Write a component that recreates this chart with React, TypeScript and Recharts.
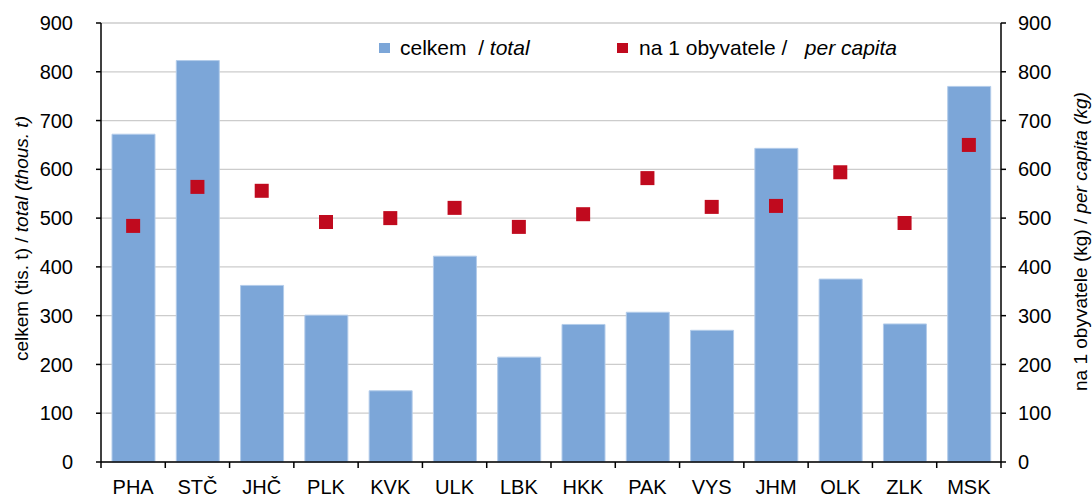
import React from 'react';
import {
  ComposedChart,
  Bar,
  Scatter,
  XAxis,
  YAxis,
  CartesianGrid
} from 'recharts';

// kraje
const REGIONS = ['PHA', 'STČ', 'JHČ', 'PLK', 'KVK', 'ULK', 'LBK', 'HKK', 'PAK', 'VYS', 'JHM', 'OLK', 'ZLK', 'MSK'];
// celkem (tis. t)
const TOTAL = [672, 823, 362, 301, 146, 422, 215, 282, 307, 270, 643, 375, 283, 770];
// na 1 obyvatele (kg)
const PER_CAPITA = [484, 564, 556, 492, 500, 521, 482, 508, 582, 523, 525, 594, 490, 650];
const Y_TICKS = [0, 100, 200, 300, 400, 500, 600, 700, 800, 900];

const data = REGIONS.map((code, i) => ({ code, total: TOTAL[i], perCapita: PER_CAPITA[i] }));

const FONT = '"Liberation Sans", Arial, sans-serif';
const BAR_COLOR = '#7CA6D8';
const DOT_COLOR = '#C00A1E';
const TICK_MARGIN = 16;

const XTick = (props: any) => {
  const { x, y, payload, index } = props;
  const off = payload?.offset ?? 32.1;
  const axisY = y - TICK_MARGIN;
  return (
    <g>
      <line x1={x - off} x2={x - off} y1={axisY} y2={axisY + 6} stroke="#000" strokeWidth={1.5} />
      {index === REGIONS.length - 1 && (
        <line x1={x + off} x2={x + off} y1={axisY} y2={axisY + 6} stroke="#000" strokeWidth={1.5} />
      )}
      <text x={x} y={axisY + 32} textAnchor="middle" fill="#000" fontSize={20} fontFamily={FONT}>
        {payload.value}
      </text>
    </g>
  );
};

const Square = (props: any) => {
  const { cx, cy } = props;
  return <rect x={cx - 7} y={cy - 7} width={14} height={14} fill={DOT_COLOR} />;
};

const LeftTitle = (props: any) => {
  const vb = props.viewBox || {};
  const cy = (vb.y ?? 23) + (vb.height ?? 439) / 2 - 4;
  return (
    <text
      x={21}
      y={cy}
      transform={`rotate(-90, 21, ${cy})`}
      textAnchor="middle"
      dominantBaseline="central"
      fontSize={19}
      fontFamily={FONT}
      fill="#000"
    >
      celkem (tis. t) / <tspan fontStyle="italic">total (thous. t)</tspan>
    </text>
  );
};

const RightTitle = (props: any) => {
  const vb = props.viewBox || {};
  const cy = (vb.y ?? 23) + (vb.height ?? 439) / 2 - 1;
  return (
    <text
      x={1080}
      y={cy}
      transform={`rotate(-90, 1080, ${cy})`}
      textAnchor="middle"
      dominantBaseline="central"
      fontSize={19}
      fontFamily={FONT}
      fill="#000"
    >
      na 1 obyvatele (kg) / <tspan fontStyle="italic">per capita (kg)</tspan>
    </text>
  );
};

const legendItem: React.CSSProperties = {
  position: 'absolute',
  top: 38,
  height: 20,
  display: 'flex',
  alignItems: 'center',
  fontSize: 21,
  lineHeight: '20px',
  whiteSpace: 'pre',
  color: '#000'
};

export default function App() {
  return (
    <div style={{ position: 'absolute', left: 0, top: 0, width: 1092, height: 497, overflow: 'hidden', fontFamily: FONT }}>
      <ComposedChart
        width={1092}
        height={497}
        data={data}
        margin={{ top: 23, right: 0, bottom: 0, left: 0 }}
        barSize={43}
      >
        <CartesianGrid vertical={false} yAxisId="left" stroke="#cccccc" strokeWidth={1.3} />
        <XAxis
          dataKey="code"
          height={35}
          interval={0}
          tickSize={0}
          tickLine={false}
          tickMargin={TICK_MARGIN}
          tick={<XTick />}
          axisLine={{ stroke: '#000', strokeWidth: 1.5 }}
        />
        <YAxis
          yAxisId="left"
          width={101}
          domain={[0, 900]}
          ticks={Y_TICKS}
          interval={0}
          tickSize={5}
          tickMargin={23}
          axisLine={{ stroke: '#000', strokeWidth: 1.5 }}
          tickLine={{ stroke: '#000', strokeWidth: 1.5 }}
          tick={{ fill: '#000', fontSize: 20, fontFamily: FONT }}
          label={{ content: <LeftTitle /> }}
        />
        <YAxis
          yAxisId="right"
          orientation="right"
          width={91}
          domain={[0, 900]}
          ticks={Y_TICKS}
          interval={0}
          tickSize={5}
          tickMargin={12}
          axisLine={{ stroke: '#000', strokeWidth: 1.5 }}
          tickLine={{ stroke: '#000', strokeWidth: 1.5 }}
          tick={{ fill: '#000', fontSize: 20, fontFamily: FONT, textAnchor: 'start' }}
          label={{ content: <RightTitle /> }}
        />
        <Bar
          yAxisId="left"
          dataKey="total"
          fill={BAR_COLOR}
          stroke="#B3CCEA"
          strokeWidth={1}
          isAnimationActive={false}
        />
        <Scatter
          yAxisId="right"
          dataKey="perCapita"
          fill={DOT_COLOR}
          shape={<Square />}
          isAnimationActive={false}
        />
      </ComposedChart>
      <div style={{ ...legendItem, left: 379 }}>
        <span style={{ width: 11, height: 10, background: BAR_COLOR, marginRight: 10 }} />
        <span>celkem  / <i>total</i></span>
      </div>
      <div style={{ ...legendItem, left: 617 }}>
        <span style={{ width: 11, height: 10, background: DOT_COLOR, marginRight: 11 }} />
        <span>na 1 obyvatele /   <i>per capita</i></span>
      </div>
    </div>
  );
}
